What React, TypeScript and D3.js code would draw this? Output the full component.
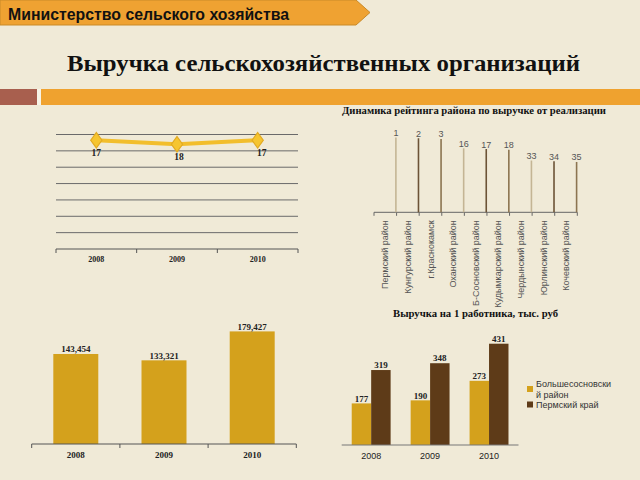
import React from 'react';
import * as d3 from 'd3';

// ---------- DATA ----------
const lineYears = ['2008', '2009', '2010'];
const rankValues = [17, 18, 17];

const districts = [
  'Пермский район',
  'Кунгурский район',
  'г.Краснокамск',
  'Оханский район',
  'Б-Сосновский район',
  'Кудымкарский район',
  'Чердынский район',
  'Юрлинский район',
  'Кочевский район',
];
const districtRanks = [1, 2, 3, 16, 17, 18, 33, 34, 35];

const revenueYears = ['2008', '2009', '2010'];
const revenueValues = [143454, 133321, 179427];
const revenueLabels = ['143,454', '133,321', '179,427'];

const perWorkerYears = ['2008', '2009', '2010'];
const perWorkerSeries = ['Большесосновский район', 'Пермский край'];
const bsValues = [177, 190, 273];
const permValues = [319, 348, 431];
const legendLines = [['Большесосновски', 'й район'], ['Пермский край']];

// ---------- STYLE ----------
const BG = '#F0EAD7';
const SERIF = '"Liberation Serif", "DejaVu Serif", serif';
const SANS = '"Liberation Sans", Arial, sans-serif';
const GOLD = '#D4A11C';
const BROWN = '#5E3B18';
const needleColors = ['#C4B594', '#6C5336', '#8C7450'];

export default function App() {
  // Chart 1: rank line
  const x1 = d3.scaleBand<string>().domain(lineYears).range([56, 298]);
  const y1 = d3.scaleLinear().domain([15.6, 43.6]).range([134.5, 249]);
  const gridVals = d3.range(8).map((i) => 15.6 + i * 4);
  const cx1 = (d: string) => (x1(d) as number) + x1.bandwidth() / 2;
  const line1 = d3
    .line<number>()
    .x((_, i) => cx1(lineYears[i]))
    .y((v) => y1(v));
  const diamond = d3.symbol().type(d3.symbolDiamond).size(70)();

  // Chart 2: needles
  const x2 = d3.scaleBand<string>().domain(districts).range([374, 577.3]);
  const y2 = d3.scaleLinear().domain([0, 105]).range([136.8, 212.3]);
  const base2 = y2(105);

  // Chart 3: revenue bars
  const x3 = d3
    .scaleBand<string>()
    .domain(revenueYears)
    .range([31.7, 296.3])
    .paddingInner(0.49)
    .paddingOuter(0.245);
  const y3 = d3.scaleLinear().domain([0, 200000]).range([444, 444 - 125.5]);

  // Chart 4: grouped bars
  const x4 = d3
    .scaleBand<string>()
    .domain(perWorkerYears)
    .range([341.7, 518.5])
    .paddingInner(0.34)
    .paddingOuter(0.17);
  const x4s = d3.scaleBand<string>().domain(perWorkerSeries).range([0, x4.bandwidth()]);
  const y4 = d3.scaleLinear().domain([0, 500]).range([445, 445 - 117.5]);
  const seriesVals = [bsValues, permValues];
  const seriesColors = [GOLD, BROWN];

  return (
    <svg
      width={640}
      height={480}
      style={{ position: 'absolute', left: 0, top: 0, background: BG }}
    >
      <rect x={0} y={0} width={640} height={480} fill={BG} />

      {/* header banner */}
      <polygon
        points="0,0 356,0 370,12.5 356,25 0,25"
        fill="#EFA232"
        stroke="#C98A28"
        strokeWidth={1}
      />
      <text
        x={8}
        y={19.5}
        fontFamily={SANS}
        fontWeight="bold"
        fontSize={16}
        fill="#111"
        textLength={281}
        lengthAdjust="spacingAndGlyphs"
      >
        Министерство сельского хозяйства
      </text>

      {/* main title */}
      <text
        x={67}
        y={71}
        fontFamily={SERIF}
        fontWeight="bold"
        fontSize={23}
        fill="#111"
        textLength={513}
        lengthAdjust="spacingAndGlyphs"
      >
        Выручка сельскохозяйственных организаций
      </text>

      {/* divider bars */}
      <rect x={0} y={89} width={37} height={16} fill="#A85F4E" />
      <rect x={37} y={89} width={4} height={16} fill="#F7F3E6" />
      <rect x={41} y={89} width={599} height={16} fill="#EFA22F" />

      {/* ===== Chart 1 ===== */}
      {gridVals.map((v, i) => (
        <line
          key={i}
          x1={56}
          x2={298}
          y1={y1(v)}
          y2={y1(v)}
          stroke={i === 7 ? '#555' : '#6a6a6a'}
          strokeWidth={1}
        />
      ))}
      {[...lineYears.map((d) => x1(d) as number), 298].map((x, i) => (
        <line key={i} x1={x} x2={x} y1={y1(43.6)} y2={y1(43.6) + 4} stroke="#555" />
      ))}
      <path d={line1(rankValues) || ''} fill="none" stroke="#F2BE2C" strokeWidth={4} />
      {rankValues.map((v, i) => (
        <g key={i} transform={`translate(${cx1(lineYears[i])},${y1(v)}) scale(1.25,1)`}>
          <path d={diamond || ''} fill="#F6C530" stroke="#E2AA22" strokeWidth={1} />
        </g>
      ))}
      {rankValues.map((v, i) => (
        <text
          key={i}
          x={cx1(lineYears[i]) + (i === 2 ? 4 : i === 1 ? 2 : 0)}
          y={y1(v) + 15.5}
          textAnchor="middle"
          fontFamily={SERIF}
          fontWeight="bold"
          fontSize={9.5}
          fill="#222"
        >
          {v}
        </text>
      ))}
      {lineYears.map((d) => (
        <text
          key={d}
          x={cx1(d)}
          y={261.5}
          textAnchor="middle"
          fontFamily={SERIF}
          fontWeight="bold"
          fontSize={8}
          fill="#222"
        >
          {d}
        </text>
      ))}

      {/* ===== Chart 2 ===== */}
      <text
        x={342}
        y={114}
        fontFamily={SERIF}
        fontWeight="bold"
        fontSize={10}
        fill="#111"
        textLength={264}
        lengthAdjust="spacingAndGlyphs"
      >
        Динамика рейтинга района по выручке от реализации
      </text>
      <line x1={374} x2={577.3} y1={base2} y2={base2} stroke="#666" strokeWidth={1} />
      {[...districts.map((d) => x2(d) as number), 577.3].map((x, i) => (
        <line key={i} x1={x} x2={x} y1={base2} y2={base2 + 3.5} stroke="#666" />
      ))}
      {districts.map((d, i) => {
        const nx = (x2(d) as number) + x2.bandwidth() - 0.7;
        return (
          <g key={d}>
            <line
              x1={nx}
              x2={nx}
              y1={base2}
              y2={y2(districtRanks[i])}
              stroke={needleColors[i % 3]}
              strokeWidth={1.6}
            />
            <text
              x={nx}
              y={y2(districtRanks[i]) - 1.5}
              textAnchor="middle"
              fontFamily={SANS}
              fontSize={9}
              fill="#555"
            >
              {districtRanks[i]}
            </text>
            <text
              transform={`translate(${(x2(d) as number) + x2.bandwidth() / 2},${base2 + 8}) rotate(-90)`}
              dy="0.35em"
              textAnchor="end"
              fontFamily={SANS}
              fontSize={9}
              fill="#555"
            >
              {d}
            </text>
          </g>
        );
      })}

      {/* ===== Chart 3 ===== */}
      {revenueYears.map((d, i) => (
        <g key={d}>
          <rect
            x={x3(d)}
            y={y3(revenueValues[i])}
            width={x3.bandwidth()}
            height={y3(0) - y3(revenueValues[i])}
            fill={GOLD}
          />
          <text
            x={(x3(d) as number) + x3.bandwidth() / 2}
            y={y3(revenueValues[i]) - 1.8}
            textAnchor="middle"
            fontFamily={SERIF}
            fontWeight="bold"
            fontSize={9}
            fill="#222"
          >
            {revenueLabels[i]}
          </text>
          <text
            x={(x3(d) as number) + x3.bandwidth() / 2}
            y={458}
            textAnchor="middle"
            fontFamily={SERIF}
            fontWeight="bold"
            fontSize={9}
            fill="#222"
          >
            {d}
          </text>
        </g>
      ))}
      <line x1={31.7} x2={296.3} y1={y3(0)} y2={y3(0)} stroke="#555" />
      {[31.7, 119.9, 208.1, 296.3].map((x, i) => (
        <line key={i} x1={x} x2={x} y1={y3(0)} y2={y3(0) + 4} stroke="#555" />
      ))}

      {/* ===== Chart 4 ===== */}
      <text
        x={393}
        y={316.5}
        fontFamily={SERIF}
        fontWeight="bold"
        fontSize={10}
        fill="#111"
        textLength={165}
        lengthAdjust="spacingAndGlyphs"
      >
        Выручка на 1 работника, тыс. руб
      </text>
      {perWorkerYears.map((d, i) => (
        <g key={d}>
          {perWorkerSeries.map((s, j) => {
            const v = seriesVals[j][i];
            const bx = (x4(d) as number) + (x4s(s) as number);
            return (
              <g key={s}>
                <rect
                  x={bx}
                  y={y4(v)}
                  width={x4s.bandwidth()}
                  height={y4(0) - y4(v)}
                  fill={seriesColors[j]}
                />
                <text
                  x={bx + x4s.bandwidth() / 2}
                  y={y4(v) - 1.8}
                  textAnchor="middle"
                  fontFamily={SERIF}
                  fontWeight="bold"
                  fontSize={9}
                  fill="#222"
                >
                  {v}
                </text>
              </g>
            );
          })}
          <text
            x={(x4(d) as number) + x4.bandwidth() / 2}
            y={459}
            textAnchor="middle"
            fontFamily={SANS}
            fontSize={9}
            fill="#222"
          >
            {d}
          </text>
        </g>
      ))}
      <line x1={341.7} x2={518.5} y1={y4(0)} y2={y4(0)} stroke="#777" />

      {/* legend */}
      <rect x={527} y={386} width={6} height={6} fill={GOLD} />
      <text x={536} y={386.5} fontFamily={SANS} fontSize={9} fill="#333">
        {legendLines[0][0]}
      </text>
      <text x={536} y={397.5} fontFamily={SANS} fontSize={9} fill="#333">
        {legendLines[0][1]}
      </text>
      <rect x={527} y={401.5} width={6} height={6} fill={BROWN} />
      <text x={536} y={407.5} fontFamily={SANS} fontSize={9} fill="#333">
        {legendLines[1][0]}
      </text>
    </svg>
  );
}
